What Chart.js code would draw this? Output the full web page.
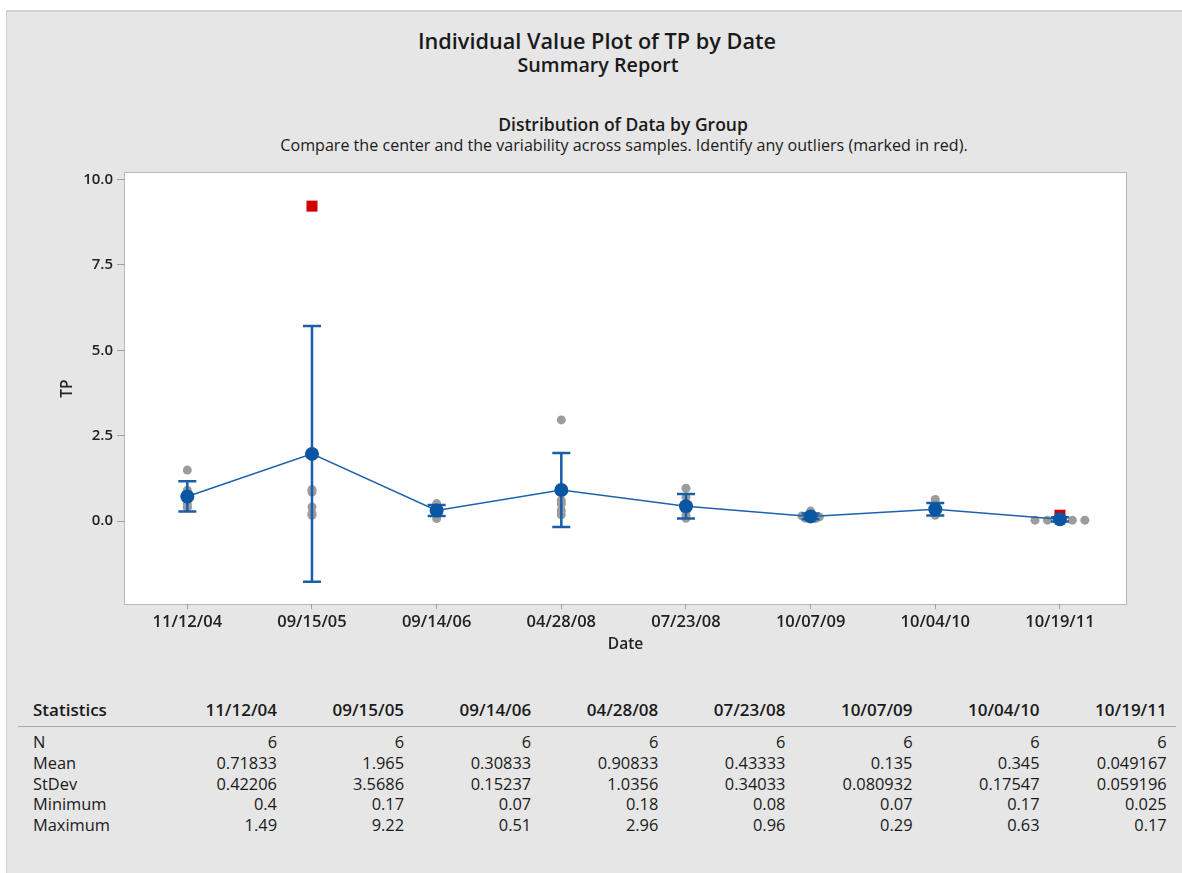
<!DOCTYPE html>
<html><head><meta charset="utf-8">
<script src="https://cdn.jsdelivr.net/npm/chart.js@4.4.0/dist/chart.umd.min.js"></script>
<style>
html,body{margin:0;padding:0;background:#fff;width:1182px;height:873px;overflow:hidden;font-family:"Open Sans","Noto Sans",sans-serif;color:#1a1a1a;}
#panel{position:absolute;left:6px;top:10px;width:1176px;height:863px;background:#e6e6e6;border-left:1px solid #d0d0d0;border-top:2px solid #d0d0d0;box-sizing:border-box;}
.t{position:absolute;white-space:nowrap;transform:translateX(-50%);line-height:1.2;}
#chartBox{position:absolute;left:0;top:160px;width:1182px;height:510px;}
.cell{position:absolute;white-space:nowrap;font-size:16.4px;line-height:20px;}
.hd{font-weight:600;font-size:17px;}
#rule{position:absolute;left:18px;top:726px;width:1158px;height:1px;background:#a9a9a9;}
</style></head><body>
<div id="panel"></div>
<div class="t" style="left:597px;top:28px;font-size:21.7px;font-weight:600">Individual Value Plot of TP by Date</div>
<div class="t" style="left:598px;top:52.5px;font-size:19.7px;font-weight:600">Summary Report</div>
<div class="t" style="left:623px;top:113.5px;font-size:17.5px;font-weight:600">Distribution of Data by Group</div>
<div class="t" style="left:624px;top:136px;font-size:16.1px;">Compare the center and the variability across samples. Identify any outliers (marked in red).</div>
<div id="chartBox"><canvas id="c"></canvas></div>
<div id="rule"></div>
<div id="table"></div>
<script>
// ---------- data ----------
const dates = ['11/12/04','09/15/05','09/14/06','04/28/08','07/23/08','10/07/09','10/04/10','10/19/11'];
const tpValues = [
  [1.49, 0.9, 0.62, 0.5, 0.4, 0.4],
  [9.22, 0.92, 0.85, 0.41, 0.22, 0.17],
  [0.51, 0.4, 0.35, 0.3, 0.22, 0.07],
  [2.96, 0.9, 0.6, 0.5, 0.31, 0.18],
  [0.96, 0.7, 0.42, 0.28, 0.16, 0.08],
  [0.29, 0.15, 0.12, 0.1, 0.08, 0.07],
  [0.63, 0.47, 0.3, 0.3, 0.2, 0.17],
  [0.17, 0.025, 0.025, 0.025, 0.025, 0.025]
];
const outlierFlags = [
  [0,0,0,0,0,0],
  [1,0,0,0,0,0],
  [0,0,0,0,0,0],
  [0,0,0,0,0,0],
  [0,0,0,0,0,0],
  [0,0,0,0,0,0],
  [0,0,0,0,0,0],
  [1,0,0,0,0,0]
];
const jitter = [
  [0,0,0,0,0,0],
  [0,0,0,0,0,0],
  [0,0,0,0,0,0],
  [0,0,0,0,0,0],
  [0,0,0,0,0,0],
  [0,-0.07,0.07,0,-0.04,0.04],
  [0,0,0,0,0,0],
  [0,-0.2,-0.1,0,0.1,0.2]
];
const means = [0.71833, 1.965, 0.30833, 0.90833, 0.43333, 0.135, 0.345, 0.049167];
const ciLow  = [0.275, -1.780, 0.148, -0.178, 0.076, 0.050, 0.161, -0.013];
const ciHigh = [1.161, 5.710, 0.468, 1.995, 0.790, 0.220, 0.529, 0.111];
const yTicks = [0, 2.5, 5, 7.5, 10];

const statRows = ['N','Mean','StDev','Minimum','Maximum'];
const statN     = ['6','6','6','6','6','6','6','6'];
const statMean  = ['0.71833','1.965','0.30833','0.90833','0.43333','0.135','0.345','0.049167'];
const statStDev = ['0.42206','3.5686','0.15237','1.0356','0.34033','0.080932','0.17547','0.059196'];
const statMin   = ['0.4','0.17','0.07','0.18','0.08','0.07','0.17','0.025'];
const statMax   = ['1.49','9.22','0.51','2.96','0.96','0.29','0.63','0.17'];

// ---------- table ----------
(function(){
  const tb = document.getElementById('table');
  const cols = [statN, statMean, statStDev, statMin, statMax];
  const add = (txt, left, right, top, bold) => {
    const d = document.createElement('div');
    d.className = 'cell' + (bold ? ' hd' : '');
    d.textContent = txt;
    d.style.top = top + 'px';
    if (left !== null) d.style.left = left + 'px';
    else { d.style.left = (right - 200) + 'px'; d.style.width = '200px'; d.style.textAlign = 'right'; }
    tb.appendChild(d);
  };
  add('Statistics', 33, null, 700, true);
  dates.forEach((d, j) => add(d, null, 277 + j * 127.1, 700, true));
  statRows.forEach((r, i) => {
    const top = 732 + i * 20.8;
    add(r, 33, null, top, false);
    cols[i].forEach((v, j) => add(v, null, 277 + j * 127.1, top, false));
  });
})();

// ---------- chart ----------
const grayPts = [], redPts = [];
tpValues.forEach((arr, i) => arr.forEach((v, k) => {
  const p = {x: i + jitter[i][k], y: v};
  (outlierFlags[i][k] ? redPts : grayPts).push(p);
}));
const meanPts = means.map((m, i) => ({x: i, y: m}));

const areaPlugin = {
  id: 'area',
  beforeDraw(chart) {
    const {ctx, chartArea: a} = chart;
    ctx.save();
    ctx.fillStyle = '#ffffff';
    ctx.fillRect(a.left, a.top, a.right - a.left, a.bottom - a.top);
    ctx.strokeStyle = '#b8b8b8';
    ctx.lineWidth = 1;
    ctx.strokeRect(Math.round(a.left) - 0.5, Math.round(a.top) - 0.5, Math.round(a.right - a.left) + 1, Math.round(a.bottom - a.top) + 1);
    ctx.restore();
  }
};
const errorBarPlugin = {
  id: 'errbars',
  beforeDatasetDraw(chart, args) {
    if (args.index !== 0) return;
    const {ctx, scales: {x, y}} = chart;
    ctx.save();
    ctx.strokeStyle = '#1b5ea8';
    ctx.lineWidth = 2.5;
    ciLow.forEach((lo, i) => {
      const px = x.getPixelForValue(i);
      const pl = y.getPixelForValue(lo), ph = y.getPixelForValue(ciHigh[i]);
      ctx.beginPath();
      ctx.moveTo(px, pl); ctx.lineTo(px, ph);
      ctx.moveTo(px - 9, pl); ctx.lineTo(px + 9, pl);
      ctx.moveTo(px - 9, ph); ctx.lineTo(px + 9, ph);
      ctx.stroke();
    });
    ctx.restore();
  }
};

const tickFont = { family: '"Open Sans"', size: 16.5, weight: '650' };
new Chart(document.getElementById('c'), {
  type: 'scatter',
  data: {
    datasets: [
      { type: 'line', data: meanPts, order: 0, borderColor: '#1f61ad', borderWidth: 1.5,
        pointRadius: 7, pointBackgroundColor: '#0a56a4', pointBorderWidth: 0, pointHoverRadius: 7, tension: 0 },
      { data: redPts, order: 1, pointStyle: 'rect', pointRadius: 7.8, backgroundColor: '#d20000', borderWidth: 0, pointHoverRadius: 7.8 },
      { data: grayPts, order: 2, pointRadius: 4.5, backgroundColor: '#9c9c9c', borderWidth: 0, pointHoverRadius: 4.5 }
    ]
  },
  options: {
    responsive: true, maintainAspectRatio: false, animation: false, devicePixelRatio: 1,
    layout: { padding: { top: 12, left: 0, right: 56, bottom: 0 } },
    plugins: { legend: { display: false }, tooltip: { enabled: false } },
    scales: {
      x: {
        type: 'linear', min: -0.5, max: 7.53,
        afterBuildTicks: (ax) => { ax.ticks = dates.map((_, i) => ({ value: i })); },
        afterFit: (ax) => { ax.height = 66; },
        ticks: { callback: (v) => dates[v], font: tickFont, color: '#222', padding: 3, maxRotation: 0, autoSkip: false },
        grid: { display: true, drawOnChartArea: false, drawTicks: true, tickLength: 5, color: '#a0a0a0' },
        border: { display: false },
        title: { display: true, text: 'Date', font: { family: '"Open Sans"', size: 15.5, weight: '650' }, color: '#222', padding: { top: 4, bottom: 16 } }
      },
      y: {
        type: 'linear', min: -2.43, max: 10.19,
        afterBuildTicks: (ax) => { ax.ticks = yTicks.map(v => ({ value: v })); },
        afterFit: (ax) => { ax.width = 125; },
        ticks: { callback: (v) => v.toFixed(1), font: { family: '"Open Sans"', size: 15, weight: '650' }, color: '#222', padding: 4 },
        grid: { display: true, drawOnChartArea: false, drawTicks: true, tickLength: 8, color: '#a0a0a0' },
        border: { display: false },
        title: { display: true, text: 'TP', font: { family: '"Open Sans"', size: 15.5, weight: '650' }, color: '#222', padding: { top: 58, bottom: 4 } }
      }
    }
  },
  plugins: [areaPlugin, errorBarPlugin]
});
</script>
</body></html>
